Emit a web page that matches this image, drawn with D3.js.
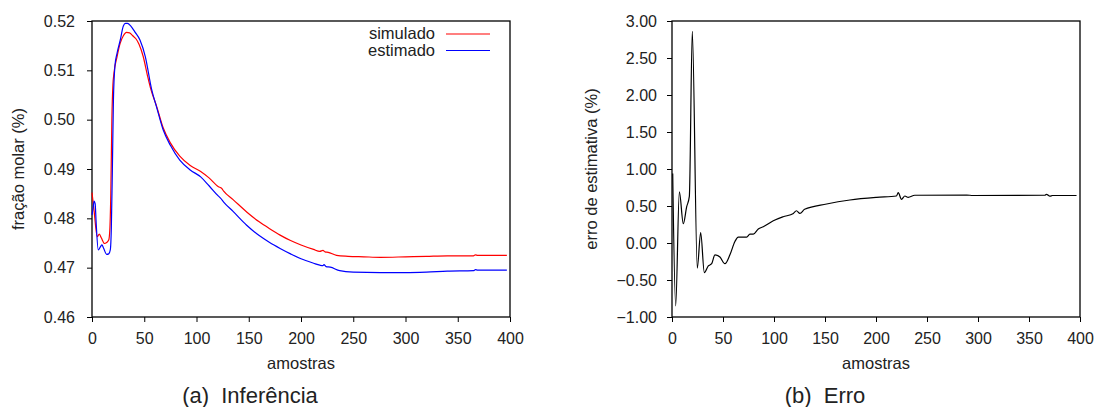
<!DOCTYPE html>
<html><head><meta charset="utf-8">
<script src="https://cdn.jsdelivr.net/npm/d3@7"></script>
<style>
html,body{margin:0;padding:0;background:#fff;}
svg text{font-family:"Liberation Sans",Arial,Helvetica,sans-serif;fill:#222;white-space:pre;}
</style></head>
<body>
<svg id="chart" width="1096" height="407"></svg>
<script>
// ---------- data ----------
const simX = [0,2,5,7,9,12,14,16,17,18,19,20,21,24,27,30,33,36,39,42,45,49,53,56,62,68,75,84,94,104,112,121,124,126,135,148,160,170,180,190,200,212,218,221,223,226,234,245,260,276,300,320,340,365,367,369,380,397];
const simY = [0.4852,0.4815,0.4763,0.4768,0.4760,0.4749,0.4751,0.4756,0.4775,0.4850,0.4999,0.5070,0.5094,0.5128,0.5155,0.5170,0.5177,0.5176,0.5170,0.5164,0.5153,0.5128,0.5090,0.5064,0.5026,0.4984,0.4953,0.4926,0.4907,0.4895,0.4882,0.4864,0.4861,0.4855,0.4838,0.4813,0.4793,0.4779,0.4766,0.4755,0.4746,0.4737,0.4733,0.4735,0.4732,0.4731,0.4725,0.4723,0.4722,0.4721,0.4722,0.4723,0.4724,0.4724,0.4726,0.4725,0.4725,0.4725];
const estX = [0,1,2,3,4,6,8,9.5,11,14,16,17.5,18.5,19.5,20.5,22,24,27,30,32,34,37,41,46,51,57,62,68,75,84,94,104,112,121,123,126,135,148,160,170,180,190,200,212,218,221,222,224,228,237,250,276,300,320,340,365,367,369,397];
const estY = [0.4807,0.4820,0.4835,0.4830,0.4790,0.4736,0.4742,0.4746,0.4740,0.4727,0.4728,0.4736,0.4780,0.4900,0.5040,0.5110,0.5135,0.5161,0.5190,0.5195,0.5195,0.5190,0.5178,0.5161,0.5128,0.5062,0.5024,0.4980,0.4948,0.4918,0.4898,0.4884,0.4866,0.4845,0.4841,0.4833,0.4814,0.4786,0.4765,0.4751,0.4739,0.4728,0.4718,0.4709,0.4705,0.4704,0.4706,0.4702,0.4701,0.4694,0.4691,0.4690,0.4690,0.4691,0.4693,0.4694,0.4696,0.4695,0.4695];
const errX = [0.7,3.6,7.2,11.1,14.4,17,19.9,24.8,28.1,31.7,35.6,38.9,42.1,47,51.9,56.8,61.7,65,73.2,76.4,79.7,84.6,89.5,99.3,109,119,122,125.4,130,151.6,174.4,200.6,220,221.8,225,228.3,231.6,238,289,295,365.5,367.2,370.5,373,396.6];
const errY = [0.94,-0.85,0.69,0.26,0.49,0.63,2.86,-0.34,0.14,-0.40,-0.31,-0.28,-0.16,-0.19,-0.28,-0.16,0.02,0.08,0.08,0.12,0.12,0.19,0.22,0.30,0.355,0.40,0.436,0.40,0.455,0.527,0.581,0.617,0.635,0.68,0.59,0.635,0.617,0.645,0.648,0.642,0.645,0.658,0.632,0.642,0.642];
const xTicks = [0,50,100,150,200,250,300,350,400];
const leftYTicks = [0.46,0.47,0.48,0.49,0.50,0.51,0.52];
const rightYTicks = [-1.0,-0.5,0,0.5,1.0,1.5,2.0,2.5,3.0];
const legendLabels = ["simulado","estimado"];
const seriesColors = ["#ff0000","#0000ff"];
const titles = ["(a)  Inferência","(b)  Erro"];
const yLabels = ["fração molar (%)","erro de estimativa (%)"];
const xLabel = "amostras";

// ---------- drawing ----------
const svg = d3.select("#chart");
const FS = 16;
const LFS = 16.5;

function fmt2(v){ const s = Math.abs(v).toFixed(2); return (v < 0 ? "\u2212" : "") + s; }

function panel(o){
  const x = d3.scaleLinear().domain([0,400]).range([o.x0,o.x1]);
  const y = d3.scaleLinear().domain(o.yDomain).range([o.y1,o.y0]);
  const g = svg.append("g");
  const xa = g.append("g").attr("transform",`translate(0,${o.y1})`)
    .call(d3.axisBottom(x).tickValues(xTicks).tickSize(5).tickPadding(11).tickFormat(d3.format("d")));
  const ya = g.append("g").attr("transform",`translate(${o.x0},0)`)
    .call(d3.axisLeft(y).tickValues(o.yTicks).tickSize(5).tickPadding(o.ypad).tickFormat(fmt2));
  [xa,ya].forEach(a=>{
    a.select(".domain").remove();
    a.selectAll("line").attr("stroke","#000").attr("stroke-width",1);
    a.selectAll("text").attr("font-size",FS).attr("fill","#222")
      .attr("font-family","'Liberation Sans',Arial,sans-serif");
  });
  g.append("rect").attr("x",o.x0).attr("y",o.y0).attr("width",o.x1-o.x0).attr("height",o.y1-o.y0)
    .attr("fill","none").attr("stroke","#000").attr("stroke-width",1.3);
  g.append("text").attr("x",(o.x0+o.x1)/2).attr("y",o.y1+52).attr("text-anchor","middle")
    .attr("font-size",LFS).text(xLabel);
  g.append("text").attr("transform",`translate(${o.ylx},${(o.y0+o.y1)/2}) rotate(-90)`)
    .attr("text-anchor","middle").attr("font-size",LFS).text(o.ylabel);
  g.append("text").attr("x",o.tx).attr("y",403).attr("text-anchor","middle")
    .attr("font-size",22).text(o.title);
  const line = d3.line().x(d=>x(d[0])).y(d=>y(d[1])).curve(d3.curveMonotoneX);
  o.series.forEach(s=>{
    g.append("path").datum(d3.zip(s.xs,s.ys)).attr("d",line)
      .attr("fill","none").attr("stroke",s.color).attr("stroke-width",1.2);
  });
  return {x,y,g};
}

const L = panel({x0:92,x1:510,y0:21,y1:317,yDomain:[0.46,0.52],yTicks:leftYTicks,ypad:12,
  ylabel:yLabels[0],ylx:24,title:titles[0],tx:250,
  series:[{xs:simX,ys:simY,color:seriesColors[0]},{xs:estX,ys:estY,color:seriesColors[1]}]});
const R = panel({x0:672,x1:1080,y0:21,y1:317,yDomain:[-1,3],yTicks:rightYTicks,ypad:10,
  ylabel:yLabels[1],ylx:597,title:titles[1],tx:825,
  series:[{xs:errX,ys:errY,color:"#000"}]});

// legend
legendLabels.forEach((lab,i)=>{
  const yy = 34 + i*16.5;
  L.g.append("text").attr("x",435).attr("y",yy+5).attr("text-anchor","end").attr("font-size",LFS).text(lab);
  L.g.append("line").attr("x1",446).attr("x2",490).attr("y1",yy).attr("y2",yy)
    .attr("stroke",seriesColors[i]).attr("stroke-width",1.2);
});
</script>
</body></html>
